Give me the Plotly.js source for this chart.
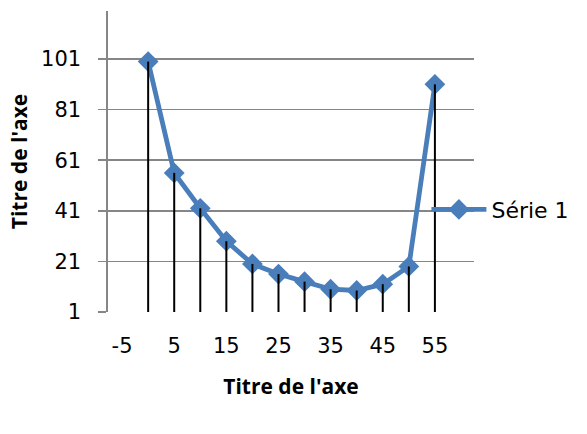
<!DOCTYPE html>
<html>
<head>
<meta charset="utf-8">
<script src="https://cdn.plot.ly/plotly-3.0.1.min.js"></script>
<style>html,body{margin:0;padding:0;background:#fff}#chart{width:587px;height:434px}</style>
</head>
<body>
<div id="chart"></div>
<script>
const xValues = [0, 5, 10, 15, 20, 25, 30, 35, 40, 45, 50, 55];
const yValues = [100, 56, 42, 29, 20, 16, 13, 10, 9.5, 12, 19, 91];
const seriesName = "Série 1";
const xTickVals = [-5, 5, 15, 25, 35, 45, 55];
const yTickVals = [1, 21, 41, 61, 81, 101];
const axisTitle = "Titre de l'axe";
const yBase = 1;

const dropX = [], dropY = [];
xValues.forEach((x, i) => { dropX.push(x, x, null); dropY.push(yBase, yValues[i], null); });

const tickFont = "DejaVu Sans, sans-serif";
const titleFont = "Open Sans, Liberation Sans, sans-serif";
const traces = [
  {
    x: xValues, y: yValues, name: seriesName, type: 'scatter', mode: 'lines+markers',
    line: {color: '#4a7ebb', width: 4.8},
    marker: {symbol: 'diamond', size: 16, color: '#4a7ebb'}
  },
  {
    x: dropX, y: dropY, type: 'scatter', mode: 'lines', showlegend: false, hoverinfo: 'skip',
    line: {color: '#000000', width: 2}
  }
];
const layout = {
  width: 587, height: 434,
  margin: {l: 108, r: 113, t: 11, b: 122, pad: 0},
  paper_bgcolor: '#fff', plot_bgcolor: '#fff',
  font: {family: tickFont, size: 21, color: '#000'},
  showlegend: true,
  legend: {x: 0.87, xanchor: 'left', y: 0.34, yanchor: 'middle', bgcolor: 'rgba(0,0,0,0)',
           font: {family: tickFont, size: 22, color: '#000'}, itemwidth: 55},
  xaxis: {
    range: [-7.7, 62.5], tickvals: xTickVals, ticktext: xTickVals.map(String),
    showgrid: false, zeroline: false, showline: false, ticks: '',
    ticklabelstandoff: 19,
    tickfont: {family: tickFont, size: 21, color: '#000'},
    title: {text: axisTitle, font: {family: titleFont, size: 21, color: '#000', weight: 'bold'}, standoff: 22},
    automargin: false
  },
  yaxis: {
    range: [1, 120], tickvals: yTickVals, ticktext: yTickVals.map(String),
    showgrid: true, gridcolor: '#868686', gridwidth: 1.6,
    zeroline: false, showline: true, linecolor: '#868686', linewidth: 1.6,
    ticks: 'outside', ticklen: 8, tickcolor: '#868686', tickwidth: 1.6,
    ticklabelstandoff: 13,
    tickfont: {family: tickFont, size: 21, color: '#000'},
    title: {text: axisTitle, font: {family: titleFont, size: 21, color: '#000', weight: 'bold'}, standoff: 8},
    automargin: false
  }
};
Plotly.newPlot('chart', traces, layout, {displayModeBar: false, staticPlot: true});
</script>
</body>
</html>
